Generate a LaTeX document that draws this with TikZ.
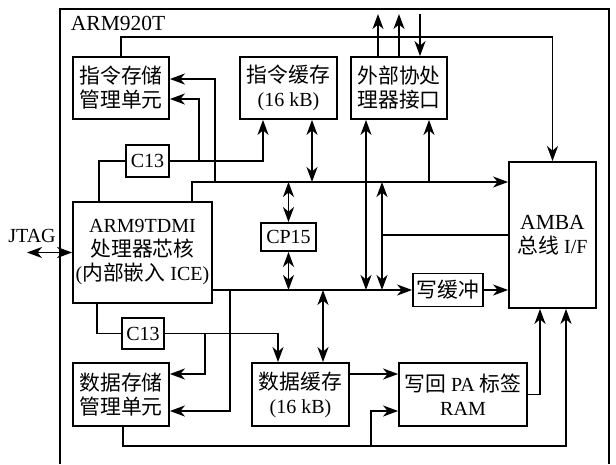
\documentclass[tikz,border=0pt]{standalone}
\usepackage{fontspec}
\setmainfont{Liberation Serif}
\newfontfamily\cjk[Scale=1.04]{Noto Sans CJK SC}
\usetikzlibrary{arrows.meta}
\tikzset{
  blk/.style={draw, line width=1.8pt, inner sep=0pt, align=center, font=\fontsize{20}{24}\selectfont},
  arr/.style={-{Stealth[length=15pt,width=11pt,inset=4.5pt]}},
  darr/.style={{Stealth[length=15pt,width=11pt,inset=4.5pt]}-{Stealth[length=15pt,width=11pt,inset=4.5pt]}},
}
\begin{document}
\begin{tikzpicture}[x=1pt,y=-1pt, every path/.style={line width=1.8pt}]
\useasboundingbox (0,0) rectangle (616,464);
% frame
\draw (60,464) -- (60,9) -- (609,9) -- (609,464);
\node[anchor=west, font=\fontsize{21.5}{24}\selectfont, inner sep=0pt] (title) at (70,23) {ARM920T};
% boxes
\node[blk, minimum width=96, minimum height=62] (imu) at (121,88) {\cjk 指令存储\\\cjk 管理单元};
\node[blk, minimum width=97, minimum height=62] (icache) at (288.5,88) {{\cjk 指令缓存}\\(16 kB)};
\node[blk, minimum width=96, minimum height=62] (cop) at (399,88) {\cjk 外部协处\\\cjk 理器接口};
\node[blk, minimum width=43, minimum height=32] (c13a) at (147.5,161) {C13};
\node[blk, minimum width=139, minimum height=101] (arm9) at (142.5,252.5) {ARM9TDMI\\{\cjk 处理器芯核}\\({\cjk 内部嵌入} ICE)};
\node[blk, minimum width=55, minimum height=28] (cp15) at (288.5,237) {CP15};
\node[blk, minimum width=87, minimum height=146] (amba) at (552.5,235) {\fontsize{21.5}{25}\selectfont AMBA\\{\cjk 总线} I/F};
\node[blk, minimum width=70, minimum height=33] (wb) at (448,290) {\cjk 写缓冲};
\node[blk, minimum width=42, minimum height=31] (c13b) at (143,333.5) {C13};
\node[blk, minimum width=96, minimum height=63] (dmu) at (121,394.5) {\cjk 数据存储\\\cjk 管理单元};
\node[blk, minimum width=97, minimum height=63] (dcache) at (300.5,394.5) {{\cjk 数据缓存}\\(16 kB)};
\node[blk, minimum width=128, minimum height=63] (wbpa) at (463,394.5) {{\cjk 写回} PA {\cjk 标签}\\RAM};
\node[font=\fontsize{20}{24}\selectfont, inner sep=0pt] (jtag) at (32,236) {JTAG};
% helper coordinates
\coordinate (yTop) at (0,37);
\coordinate (yTip) at (0,14);
\coordinate (yBus1) at (0,182);
\coordinate (yBus2) at (0,290);
\coordinate (yI1) at (0,79);
\coordinate (yI2) at (0,99);
\coordinate (yD1) at (0,374);
\coordinate (yD2) at (0,411);
\coordinate (yBot) at (0,446);
\coordinate (xA) at (99,0);
\coordinate (xB) at (199,0);
\coordinate (xC) at (215,0);
\coordinate (xD) at (263,0);
\coordinate (xE) at (312,0);
\coordinate (xF) at (366,0);
\coordinate (xG) at (382,0);
\coordinate (xH) at (429,0);
\coordinate (xT1) at (378,0);
\coordinate (xT2) at (399,0);
\coordinate (xT3) at (420,0);
\coordinate (xJ) at (192,0);
\coordinate (xK) at (97,0);
\coordinate (xL) at (205,0);
\coordinate (xM) at (230,0);
\coordinate (xN) at (278,0);
\coordinate (xO) at (323,0);
\coordinate (xP) at (123,0);
\coordinate (xQ) at (371,0);
\coordinate (xR) at (540,0);
\coordinate (xS) at (566,0);
\coordinate (jt) at (27,252.5);
% top loop
\draw[arr] (imu.north) -- (imu.north |- yTop) -| (amba.north);
% upper C13
\draw (arm9.north -| xA) |- (c13a.west);
\draw[arr] (c13a.east) -| (xD |- icache.south);
\draw[arr] (xB |- c13a.east) |- (imu.east |- yI2);
% bus 1
\draw[arr] (arm9.north -| xJ) |- (amba.west |- yBus1);
\draw[arr] (xC |- yBus1) |- (imu.east |- yI1);
\draw[darr] (icache.south -| xE) -- (xE |- yBus1);
\draw[arr] (xH |- yBus1) -- (cop.south -| xH);
\draw[darr] (cp15.north) -- (cp15.north |- yBus1);
\draw[darr] (cp15.south) -- (cp15.south |- yBus2);
% coprocessor top
\draw[arr] (cop.north -| xT1) -- (xT1 |- yTip);
\draw[arr] (cop.north -| xT2) -- (xT2 |- yTip);
\draw[arr] (xT3 |- yTip) -- (cop.north -| xT3);
% verticals between buses
\draw[darr] (cop.south -| xF) -- (xF |- yBus2);
\draw (amba.west) -- (amba.west -| xG);
\draw[arr] (amba.west -| xG) -- (xG |- yBus1);
\draw[arr] (amba.west -| xG) -- (xG |- yBus2);
% bus 2
\draw[arr] (arm9.east |- wb.west) -- (wb.west);
\draw[arr] (wb.east) -- (wb.east -| amba.west);
\draw[arr] (xM |- yBus2) |- (dmu.east |- yD2);
\draw[darr] (xO |- yBus2) -- (dcache.north -| xO);
% lower C13
\draw (arm9.south -| xK) |- (c13b.west);
\draw[arr] (c13b.east) -| (dcache.north -| xN);
\draw[arr] (c13b.east -| xL) |- (dmu.east |- yD1);
% bottom
\draw[arr] (dcache.east |- yD1) -- (wbpa.west |- yD1);
\draw[arr] (dmu.south -| xP) |- (xS |- yBot) -- (amba.south -| xS);
\draw[arr] (xQ |- yBot) |- (wbpa.west |- yD2);
\draw[arr] (wbpa.east) -| (amba.south -| xR);
% JTAG
\draw[darr] (jt) -- (arm9.west);
\end{tikzpicture}
\end{document}
